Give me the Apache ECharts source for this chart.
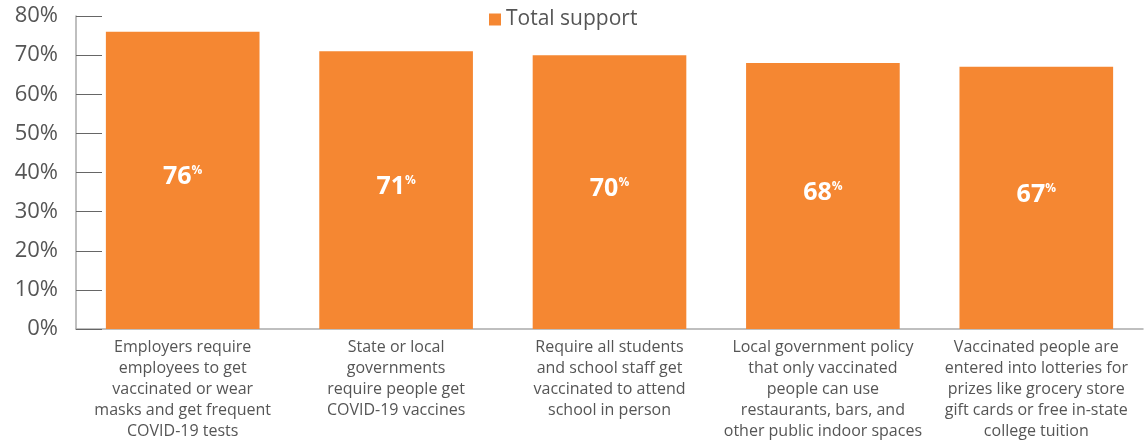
<!DOCTYPE html>
<html>
<head>
	<meta charset="UTF-8">
	<title></title>
	<style>
		* { margin: 0; padding: 0; }
		html, body { width: 100%; height: 100%; overflow: hidden; background: #fff; }
		#chart { width: 1145px; height: 443px; }
	</style>
</head>
<body>
	<div id="chart"></div>
	<script src="https://cdn.jsdelivr.net/npm/echarts@6/dist/echarts.min.js"></script>
	<script>
		// categories (already wrapped like the original)
		var categories = [
			'Employers require\nemployees to get\nvaccinated or wear\nmasks and get frequent\nCOVID-19 tests',
			'State or local\ngovernments\nrequire people get\nCOVID-19 vaccines',
			'Require all students\nand school staff get\nvaccinated to attend\nschool in person',
			'Local government policy\nthat only vaccinated\npeople can use\nrestaurants, bars, and\nother public indoor spaces',
			'Vaccinated people are\nentered into lotteries for\nprizes like grocery store\ngift cards or free in-state\ncollege tuition'
		];
		var seriesName = 'Total support';
		var supportValues = [76, 71, 70, 68, 67];
		var yTicks = [0, 10, 20, 30, 40, 50, 60, 70, 80];

		var fontFam = '"Open Sans", sans-serif';
		var orange = '#f58732';

		var chart = echarts.init(document.getElementById('chart'));
		chart.setOption({
			animation: false,
			textStyle: { fontFamily: fontFam },
			legend: {
				data: [seriesName],
				top: 4,
				left: 484,
				itemWidth: 12,
				itemHeight: 12,
				itemGap: 8,
				icon: 'rect',
				textStyle: { fontSize: 21, color: '#555', fontFamily: fontFam }
			},
			grid: { left: 76, right: 2, top: 16, bottom: 114 },
			xAxis: {
				type: 'category',
				data: categories,
				axisLine: { lineStyle: { color: '#aaa', width: 1.5 } },
				axisTick: { inside: true, length: 8, lineStyle: { color: '#777' } },
				axisLabel: {
					interval: 0,
					color: '#555',
					fontSize: 16,
					lineHeight: 21,
					margin: 8,
					fontFamily: fontFam
				}
			},
			yAxis: {
				type: 'value',
				min: yTicks[0],
				max: yTicks[yTicks.length - 1],
				interval: 10,
				axisLine: { show: true, lineStyle: { color: '#aaa', width: 1.5 } },
				axisTick: { show: true, inside: true, length: 26, lineStyle: { color: '#666' } },
				splitLine: { show: false },
				axisLabel: {
					formatter: '{value}%',
					color: '#555',
					fontSize: 22,
					margin: 18,
					fontFamily: fontFam
				}
			},
			series: [{
				name: seriesName,
				type: 'bar',
				data: supportValues,
				barWidth: '72%',
				itemStyle: { color: orange },
				label: {
					show: true,
					position: 'inside',
					offset: [0, -3],
					formatter: '{v|{c}}{p|%}',
					rich: {
						v: { fontSize: 25, fontWeight: 'bold', color: '#fff', fontFamily: fontFam },
						p: { fontSize: 12, fontWeight: 'bold', color: '#fff', fontFamily: fontFam, verticalAlign: 'top', padding: [0, 0, 12, 0] }
					}
				}
			}]
		});
	</script>
</body>
</html>
